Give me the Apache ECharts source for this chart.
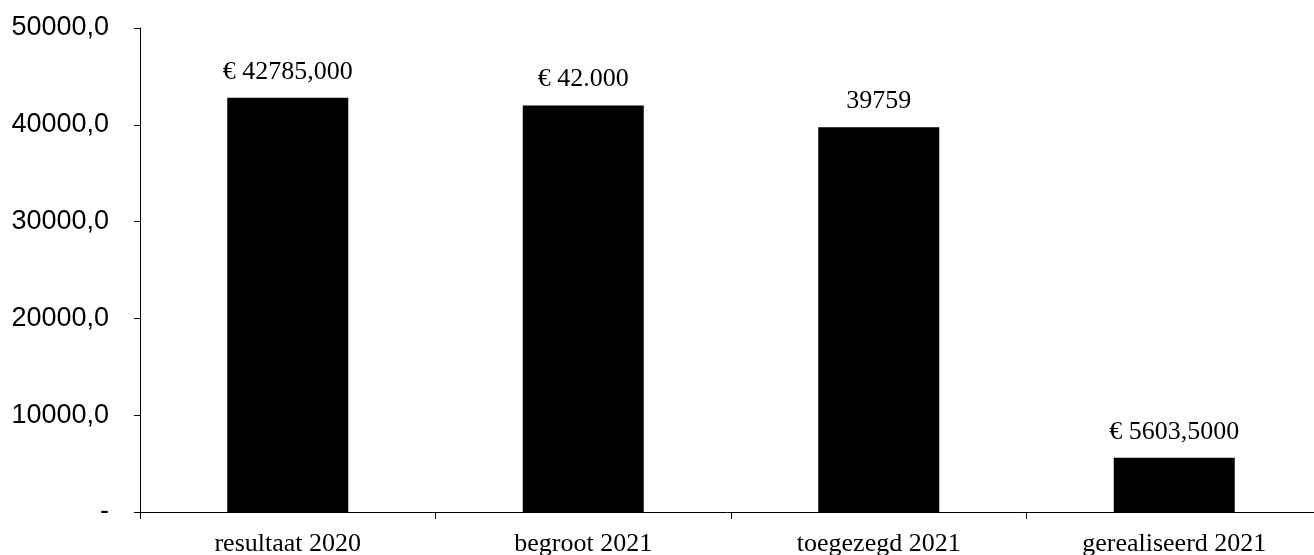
<!DOCTYPE html>
<html>
<head>
<meta charset="utf-8">
<script src="https://cdn.jsdelivr.net/npm/echarts@6/dist/echarts.min.js"></script>
<style>html,body{margin:0;padding:0;background:#fff}#c{width:1314px;height:555px}</style>
</head>
<body>
<div id="c"></div>
<script>
const categories = ['resultaat 2020', 'begroot 2021', 'toegezegd 2021', 'gerealiseerd 2021'];
const values = [42785, 42000, 39759, 5603.5];
const valueLabels = ['€ 42785,000', '€ 42.000', '39759', '€ 5603,5000'];
const yTicks = [0, 10000, 20000, 30000, 40000, 50000];

const chart = echarts.init(document.getElementById('c'));
chart.setOption({
  animation: false,
  backgroundColor: '#fff',
  grid: { left: 140, width: 1182, top: 28, bottom: 43, containLabel: false, outerBoundsMode: 'none' },
  xAxis: {
    type: 'category',
    data: categories,
    axisLine: { lineStyle: { color: '#000', width: 1 } },
    axisTick: { show: true, length: 7, lineStyle: { color: '#000' } },
    axisLabel: { color: '#000', fontFamily: 'Liberation Serif', fontSize: 26, margin: 19 }
  },
  yAxis: {
    type: 'value',
    min: yTicks[0],
    max: yTicks[yTicks.length - 1],
    interval: 10000,
    splitLine: { show: false },
    axisLine: { show: true, lineStyle: { color: '#000', width: 1 } },
    axisTick: { show: true, length: 6, lineStyle: { color: '#000' } },
    axisLabel: {
      color: '#000', fontFamily: 'Liberation Sans', fontSize: 27, margin: 31,
      formatter: v => v === 0 ? '-' : (v.toFixed(1).replace('.', ','))
    }
  },
  series: [{
    type: 'bar',
    data: values,
    barWidth: 121,
    itemStyle: { color: '#000' },
    label: {
      show: true, position: 'top', distance: 13,
      color: '#000', fontFamily: 'Liberation Serif', fontSize: 26,
      formatter: p => valueLabels[p.dataIndex]
    }
  }]
});
</script>
</body>
</html>
